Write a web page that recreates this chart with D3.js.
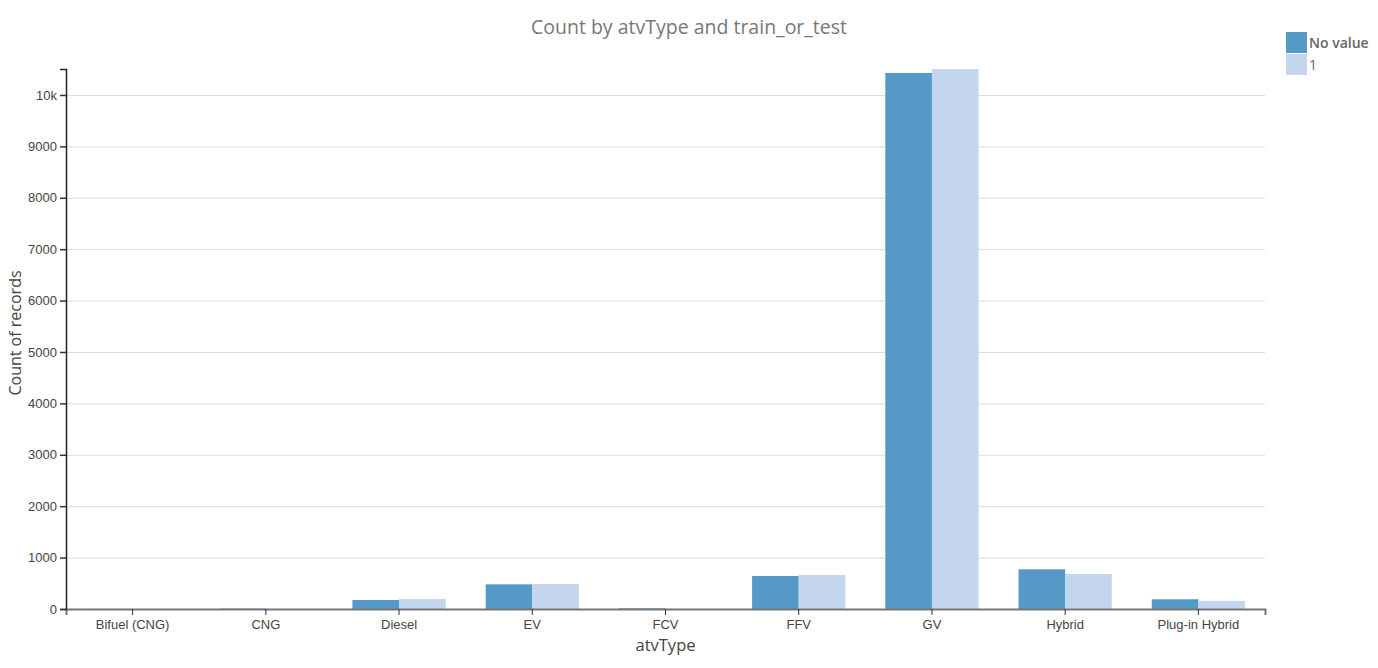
<!DOCTYPE html>
<html>
<head>
<meta charset="utf-8">
<script src="https://cdn.jsdelivr.net/npm/d3@7"></script>
<style>
  body { margin: 0; background: #fff; font-family: "Open Sans", sans-serif; }
  .grid line { stroke: #dcdcdc; }
  .grid .domain { display: none; }
  .tick text { fill: #444; font-size: 13px; }
</style>
</head>
<body>
<svg id="chart" width="1378" height="668"></svg>
<script>
// atvType categories
const categories = ["Bifuel (CNG)", "CNG", "Diesel", "EV", "FCV", "FFV", "GV", "Hybrid", "Plug-in Hybrid"]
const seriesNames = ["No value", "1"]
// counts per series
const noValueCounts = [2, 8, 175, 480, 14, 642, 10428, 772, 189]
const oneCounts = [2, 5, 195, 486, 5, 661, 10505, 681, 156]
const yTicks = [0, 1000, 2000, 3000, 4000, 5000, 6000, 7000, 8000, 9000, 10000]

const colors = ["#5599c7", "#c4d5ee"]

let margin = {top: 69, right: 113, bottom: 59, left: 66},
    width = 1378 - margin.left - margin.right,
    height = 668 - margin.top - margin.bottom

let svg = d3.select("#chart")
let g = svg.append("g").attr("transform", `translate(${margin.left},${margin.top})`)

let x = d3.scaleBand().domain(categories).range([0, width]).paddingInner(0.3).paddingOuter(0.15)
let x0 = d3.scaleBand().domain(categories).range([0, width])
let xs = d3.scaleBand().domain(seriesNames).range([0, x.bandwidth()])
let maxVal = d3.max(noValueCounts.concat(oneCounts))
let y = d3.scaleLinear().domain([0, maxVal]).range([height, 0])

// gridlines
g.append("g").attr("class", "grid")
    .call(d3.axisRight(y).tickValues(yTicks.slice(1)).tickSize(width).tickFormat(""))

let rows = categories.map((c, i) => ({cat: c, vals: [noValueCounts[i], oneCounts[i]]}))

g.selectAll(".grp")
    .data(rows)
    .join("g")
    .attr("class", "grp")
    .attr("transform", d => `translate(${x0(d.cat) + (x0.bandwidth() - x.bandwidth()) / 2},0)`)
    .selectAll("rect")
    .data(d => d.vals.map((v, k) => ({name: seriesNames[k], v: v, k: k})))
    .join("rect")
    .attr("x", d => xs(d.name))
    .attr("width", xs.bandwidth())
    .attr("y", d => y(d.v))
    .attr("height", d => height - y(d.v))
    .attr("fill", d => colors[d.k])

// x axis
let xAxis = g.append("g")
    .attr("transform", `translate(0,${height})`)
    .call(d3.axisBottom(x0).tickSizeOuter(6).tickSize(6).tickPadding(4))
xAxis.select(".domain").attr("stroke", "#777").attr("stroke-width", 2)
xAxis.selectAll(".tick line").attr("stroke", "#333")
xAxis.selectAll(".tick text").attr("dy", "0.75em")

// y axis
let yAxis = g.append("g")
    .call(d3.axisLeft(y).tickValues(yTicks).tickSizeOuter(6)
        .tickFormat(d => d >= 10000 ? (d / 1000) + "k" : d))
yAxis.select(".domain").attr("stroke", "#222").attr("stroke-width", 1.5)
yAxis.selectAll(".tick line").attr("stroke", "#333").attr("stroke-width", 1.5)

// titles
svg.append("text")
    .attr("x", 689).attr("y", 34)
    .attr("text-anchor", "middle")
    .attr("fill", "#777").attr("font-size", "19.5px")
    .text("Count by atvType and train_or_test")

svg.append("text")
    .attr("x", margin.left + width / 2).attr("y", 651)
    .attr("text-anchor", "middle")
    .attr("fill", "#444").attr("font-size", "16.5px")
    .text("atvType")

svg.append("text")
    .attr("transform", "rotate(-90)")
    .attr("x", -333).attr("y", 21)
    .attr("text-anchor", "middle")
    .attr("fill", "#444").attr("font-size", "16px")
    .text("Count of records")

// legend
let size = 21
let legend = svg.append("g").attr("transform", "translate(1286,32)")
legend.selectAll("rect")
    .data(seriesNames)
    .join("rect")
    .attr("x", 0)
    .attr("y", (d, i) => i * (size + 1))
    .attr("width", size)
    .attr("height", size)
    .attr("fill", (d, i) => colors[i])
legend.selectAll("text")
    .data(seriesNames)
    .join("text")
    .attr("x", size + 2)
    .attr("y", (d, i) => i * (size + 1) + size / 2 + 5)
    .attr("fill", "#666")
    .attr("font-size", "14px")
    .attr("font-weight", (d, i) => i === 0 ? "600" : "normal")
    .text(d => d)
</script>
</body>
</html>
